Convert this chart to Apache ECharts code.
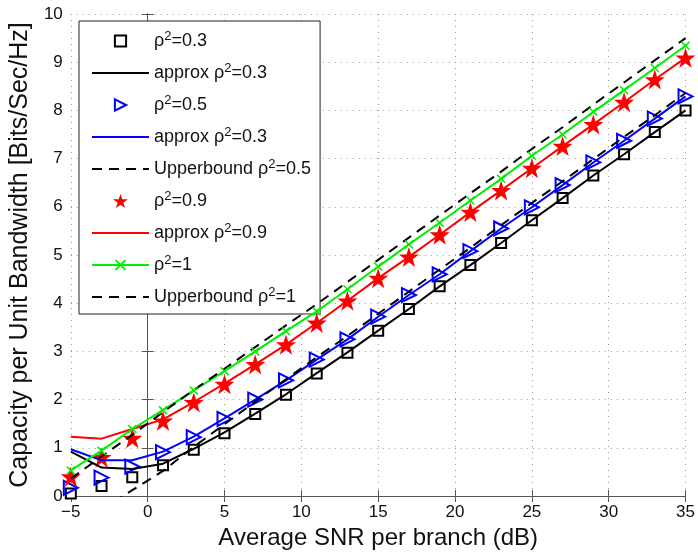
<!DOCTYPE html>
<html>
<head>
<meta charset="utf-8">
<script src="https://cdn.jsdelivr.net/npm/echarts@6/dist/echarts.min.js"></script>
<style>
html,body{margin:0;padding:0;background:#fff;}
#chart{width:698px;height:555px;}
</style>
</head>
<body>
<div id="chart"></div>
<script>
// ---- data ----
const snr = [-5,-3,-1,1,3,5,7,9,11,13,15,17,19,21,23,25,27,29,31,33,35];
const sim03 = [0.05,0.21,0.39,0.64,0.96,1.30,1.70,2.10,2.54,2.97,3.43,3.88,4.35,4.79,5.25,5.72,6.18,6.65,7.09,7.55,8.00];
const approx03 = [0.92,0.59,0.56,0.67,0.98,1.32,1.71,2.11,2.55,2.98,3.43,3.88,4.35,4.79,5.25,5.72,6.18,6.65,7.09,7.55,8.00];
const sim05 = [0.17,0.38,0.61,0.91,1.22,1.60,2.00,2.40,2.83,3.25,3.72,4.17,4.60,5.08,5.55,5.99,6.45,6.92,7.37,7.83,8.29];
const approx05 = [0.97,0.74,0.74,0.92,1.23,1.61,2.00,2.40,2.83,3.25,3.72,4.17,4.60,5.08,5.55,5.99,6.45,6.92,7.37,7.83,8.29];
const upper05 = [-0.70,-0.28,0.12,0.52,1.02,1.49,1.96,2.42,2.88,3.32,3.78,4.24,4.70,5.15,5.62,6.08,6.53,6.99,7.45,7.90,8.36];
const sim09 = [0.40,0.80,1.20,1.56,1.94,2.32,2.73,3.14,3.59,4.05,4.52,4.96,5.42,5.89,6.34,6.80,7.26,7.71,8.17,8.64,9.09];
const approx09 = [1.23,1.19,1.39,1.59,1.95,2.33,2.73,3.14,3.59,4.05,4.52,4.96,5.42,5.89,6.34,6.80,7.26,7.71,8.17,8.64,9.09];
const sim1 = [0.53,0.94,1.39,1.78,2.19,2.59,3.00,3.42,3.83,4.29,4.76,5.22,5.67,6.13,6.58,7.06,7.50,7.97,8.42,8.88,9.34];
const upper1 = [0.36,0.82,1.27,1.74,2.20,2.64,3.09,3.54,3.98,4.44,4.90,5.36,5.82,6.28,6.73,7.20,7.65,8.12,8.58,9.04,9.50];
const legendNames = ['ρ²=0.3','approx ρ²=0.3','ρ²=0.5','approx ρ²=0.3 ','Upperbound ρ²=0.5','ρ²=0.9','approx ρ²=0.9','ρ²=1','Upperbound ρ²=1'];
const xTitle = 'Average SNR per branch (dB)';
const yTitle = 'Capacity per Unit Bandwidth [Bits/Sec/Hz]';

const FONT = 'Liberation Sans, Arial, Helvetica, sans-serif';
const pair = d => snr.map((x,i)=>[x,d[i]]);
const STAR = 'path://M50,0L61.8,35.3L99,35.3L69,57.6L80.3,92.7L50,71L19.7,92.7L31,57.6L1,35.3L38.2,35.3Z';
const XMARK = 'path://M0,1.2L1.2,0L5,3.8L8.8,0L10,1.2L6.2,5L10,8.8L8.8,10L5,6.2L1.2,10L0,8.8L3.8,5Z';
const NOFILL = 'rgba(0,0,0,0)';

const chart = echarts.init(document.getElementById('chart'), null, {renderer:'canvas'});
const axisCommon = {
  axisLine:{show:true, lineStyle:{color:'#555', width:1}},
  axisTick:{show:true, inside:true, length:6, lineStyle:{color:'#555'}},
};
chart.setOption({
  animation:false,
  backgroundColor:'#fff',
  grid:{left:70, right:12, top:14, bottom:56, containLabel:false},
  xAxis:[{
    type:'value', min:-5, max:35, interval:5, position:'bottom',
    ...axisCommon,
    axisLabel:{color:'#111', fontSize:17, fontFamily:FONT, margin:8, formatter:v=>String(v).replace('-','\u2212')},
    splitLine:{show:true, lineStyle:{color:'#9a9a9a', type:[1,5], width:1}},
    name:xTitle, nameLocation:'middle', nameGap:30,
    nameTextStyle:{color:'#111', fontSize:24, fontFamily:FONT}
  },{
    type:'value', min:-5, max:35, interval:5, position:'top',
    ...axisCommon, axisLabel:{show:false}, splitLine:{show:false}
  }],
  yAxis:[{
    type:'value', min:0, max:10, interval:1, position:'left',
    ...axisCommon,
    axisLabel:{color:'#111', fontSize:17, fontFamily:FONT, margin:8},
    splitLine:{show:true, lineStyle:{color:'#9a9a9a', type:[1,5], width:1}},
    name:yTitle, nameLocation:'middle', nameGap:36, nameRotate:90,
    nameTextStyle:{color:'#111', fontSize:25, fontFamily:FONT}
  },{
    type:'value', min:0, max:10, interval:1, position:'right',
    ...axisCommon, axisLabel:{show:false}, splitLine:{show:false}
  }],
  legend:{
    orient:'vertical', left:79, top:21,
    data:legendNames.map((n,i)=> i===5 ? {name:n, icon:STAR} : {name:n}),
    backgroundColor:'#fff', borderColor:'#222', borderWidth:1, borderRadius:0,
    padding:[9,9,8,12], itemGap:12, itemWidth:57, itemHeight:14,
    selectedMode:false,
    formatter: n => { const p = n.split('²'); return '{t|'+p[0]+'}{s|2}{t|'+p[1].trim()+'}'; },
    textStyle:{color:'#111', fontSize:18, fontFamily:FONT,
      rich:{t:{fontSize:18, fontFamily:FONT, color:'#111', lineHeight:22},
            s:{fontSize:13, fontFamily:FONT, color:'#111', lineHeight:12, verticalAlign:'top'}}}
  },
  series:[
    {name:legendNames[0], type:'line', data:pair(sim03), symbol:'rect', symbolSize:10,
     lineStyle:{width:0}, itemStyle:{color:'#fff', borderColor:'#000', borderWidth:2}, z:3},
    {name:legendNames[1], type:'line', data:pair(approx03), symbol:'none',
     lineStyle:{color:'#000', width:2}, itemStyle:{color:NOFILL}, z:4},
    {name:legendNames[2], type:'line', data:pair(sim05), symbol:'triangle', symbolRotate:-90, symbolSize:14,
     lineStyle:{width:0}, itemStyle:{color:NOFILL, borderColor:'#0000ff', borderWidth:2}, z:3},
    {name:legendNames[3], type:'line', data:pair(approx05), symbol:'none',
     lineStyle:{color:'#0000ff', width:2}, itemStyle:{color:NOFILL}, z:4},
    {name:legendNames[4], type:'line', data:pair(upper05), symbol:'none',
     lineStyle:{color:'#000', width:2, type:[10,7]}, itemStyle:{color:NOFILL}, z:4},
    {name:legendNames[5], type:'line', data:pair(sim09), symbol:STAR, symbolSize:20,
     lineStyle:{width:0}, itemStyle:{color:'#ff0000'}, z:3},
    {name:legendNames[6], type:'line', data:pair(approx09), symbol:'none',
     lineStyle:{color:'#ff0000', width:2}, itemStyle:{color:NOFILL}, z:4},
    {name:legendNames[7], type:'line', data:pair(sim1), symbol:XMARK, symbolSize:9,
     lineStyle:{color:'#00ee00', width:2}, itemStyle:{color:'#00ee00'}, z:4},
    {name:legendNames[8], type:'line', data:pair(upper1), symbol:'none',
     lineStyle:{color:'#000', width:2, type:[10,7]}, itemStyle:{color:NOFILL}, z:4}
  ]
});
</script>
</body>
</html>
